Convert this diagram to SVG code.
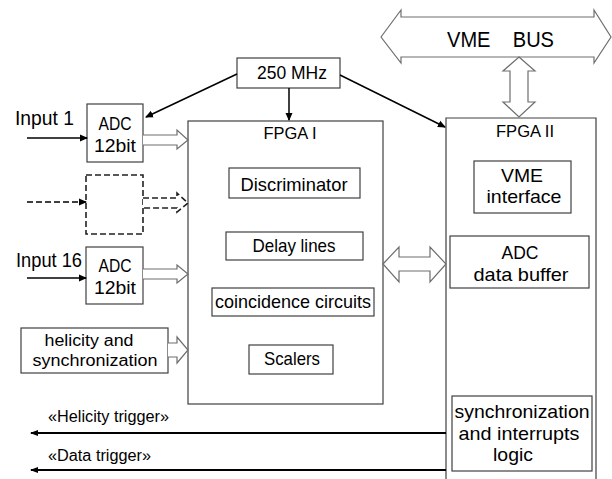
<svg xmlns="http://www.w3.org/2000/svg" width="612" height="479" viewBox="0 0 612 479">
<style>
text{font-family:"Liberation Sans",Arial,sans-serif;fill:#000;}
.box{fill:#fff;stroke:#404040;stroke-width:1.2;}
.hol{fill:#fff;stroke:#6e6e6e;stroke-width:1.2;stroke-linejoin:miter;}
.ln{stroke:#000;stroke-width:1.5;fill:none;}
.c{font-size:19px;text-anchor:middle;}
.s{font-size:16px;text-anchor:middle;}
.f{font-size:17px;text-anchor:middle;}
.tr{font-size:16px;}
</style>
<defs>
<marker id="ah" markerWidth="8" markerHeight="8" refX="7" refY="4" orient="auto" markerUnits="userSpaceOnUse">
<path d="M0,0.5 L8,4 L0,7.5 Z" fill="#000"/>
</marker>
<marker id="ah2" markerWidth="8" markerHeight="6" refX="7" refY="3" orient="auto" markerUnits="userSpaceOnUse">
<path d="M0,0 L8,3 L0,6 Z" fill="#000"/>
</marker>
</defs>

<g id="vmebus">
<path class="hol" d="M381,37 L401,10 L401,17 L594,17 L594,10 L611,37 L594,63 L594,57 L401,57 L401,63 Z"/>
<text x="447" y="47" font-size="22" textLength="107" lengthAdjust="spacingAndGlyphs" xml:space="preserve">VME    BUS</text>
</g>

<g id="clk">
<rect class="box" x="237" y="58" width="103" height="30"/>
<text x="292" y="79" font-size="18" text-anchor="middle" textLength="70" lengthAdjust="spacingAndGlyphs">250 MHz</text>
</g>

<g id="input1">
<text x="15" y="125" font-size="20" textLength="59" lengthAdjust="spacingAndGlyphs">Input 1</text>
</g>
<g id="adc1">
<rect class="box" x="87" y="104" width="56" height="58"/>
<text class="c" x="115" y="130" textLength="33" lengthAdjust="spacingAndGlyphs">ADC</text>
<text class="c" x="115" y="152" textLength="42" lengthAdjust="spacingAndGlyphs">12bit</text>
</g>

<g id="adcdash">
<rect x="86" y="175" width="57" height="59" fill="#fff" stroke="#222" stroke-width="1.6" stroke-dasharray="6 3"/>
</g>

<g id="input16">
<text x="16" y="267" font-size="20" textLength="66" lengthAdjust="spacingAndGlyphs">Input 16</text>
</g>
<g id="adc16">
<rect class="box" x="86" y="247" width="57" height="57"/>
<text class="c" x="115" y="272" textLength="33" lengthAdjust="spacingAndGlyphs">ADC</text>
<text class="c" x="115" y="294" textLength="42" lengthAdjust="spacingAndGlyphs">12bit</text>
</g>

<g id="helicity">
<rect class="box" x="21" y="328" width="147" height="45"/>
<text class="s" x="89" y="346" textLength="89" lengthAdjust="spacingAndGlyphs">helicity and</text>
<text class="s" x="95" y="366" textLength="125" lengthAdjust="spacingAndGlyphs">synchronization</text>
</g>

<g id="fpga1">
<rect class="box" x="188" y="121" width="195" height="283"/>
<text class="f" x="290" y="139" textLength="53" lengthAdjust="spacingAndGlyphs">FPGA I</text>
</g>
<g id="discriminator">
<rect class="box" x="229" y="168" width="131" height="30"/>
<text class="c" x="294" y="191" textLength="107" lengthAdjust="spacingAndGlyphs">Discriminator</text>
</g>
<g id="delay">
<rect class="box" x="226" y="232" width="137" height="28"/>
<text class="c" x="294" y="252" textLength="83" lengthAdjust="spacingAndGlyphs">Delay lines</text>
</g>
<g id="coincidence">
<rect class="box" x="212" y="288" width="162" height="28"/>
<text class="c" x="293" y="308" textLength="156" lengthAdjust="spacingAndGlyphs">coincidence circuits</text>
</g>
<g id="scalers">
<rect class="box" x="249" y="345" width="84" height="29"/>
<text class="c" x="292" y="365" textLength="56" lengthAdjust="spacingAndGlyphs">Scalers</text>
</g>

<g id="fpga2">
<path class="box" d="M446,480 L446,118 L596,118 L596,480"/>
<text class="f" x="525" y="137" textLength="58" lengthAdjust="spacingAndGlyphs">FPGA II</text>
</g>
<g id="vmeif">
<rect class="box" x="474" y="161" width="97" height="52"/>
<text class="c" x="522" y="182" textLength="42" lengthAdjust="spacingAndGlyphs">VME</text>
<text class="c" x="524" y="203" textLength="75" lengthAdjust="spacingAndGlyphs">interface</text>
</g>
<g id="adcbuf">
<rect class="box" x="450" y="236" width="139" height="52"/>
<text class="c" x="520" y="259" textLength="37" lengthAdjust="spacingAndGlyphs">ADC</text>
<text class="c" x="521" y="281" textLength="95" lengthAdjust="spacingAndGlyphs">data buffer</text>
</g>
<g id="synclogic">
<rect class="box" x="452" y="396" width="140" height="75"/>
<text class="c" x="522" y="418" textLength="135" lengthAdjust="spacingAndGlyphs">synchronization</text>
<text class="c" x="519" y="440" textLength="121" lengthAdjust="spacingAndGlyphs">and interrupts</text>
<text class="c" x="513" y="461" textLength="40" lengthAdjust="spacingAndGlyphs">logic</text>
</g>

<g id="connectors">
<line class="ln" x1="237" y1="74" x2="146" y2="117" marker-end="url(#ah)"/>
<line class="ln" x1="289" y1="88" x2="289" y2="120" marker-end="url(#ah)"/>
<line class="ln" x1="340" y1="75" x2="445" y2="127" marker-end="url(#ah)"/>
<line class="ln" x1="27" y1="138" x2="87" y2="138" marker-end="url(#ah)"/>
<line class="ln" x1="27" y1="202" x2="86" y2="202" stroke-dasharray="6 3" marker-end="url(#ah)"/>
<line class="ln" x1="27" y1="278" x2="86" y2="278" marker-end="url(#ah)"/>
<path class="hol" d="M143,135 L177,135 L177,130 L188,140 L177,149 L177,145 L143,145"/>
<path d="M143,198 L177,198 L177,193 L188,203 L177,212 L177,208 L143,208" fill="#fff" stroke="#222" stroke-width="1.6" stroke-dasharray="6 3"/>
<path class="hol" d="M143,269 L177,269 L177,265 L188,274 L177,283 L177,279 L143,279"/>
<path class="hol" d="M168,343 L177,343 L177,337 L188,350 L177,363 L177,357 L168,357"/>
<path class="hol" d="M383,264 L399,247 L399,257 L430,257 L430,247 L446,264 L430,282 L430,271 L399,271 L399,282 Z"/>
<path class="hol" d="M519,57 L535,71 L528,71 L528,102 L535,102 L519,117 L503,102 L510,102 L510,71 L503,71 Z"/>
<line x1="446" y1="433" x2="31" y2="433" stroke="#000" stroke-width="2.2" marker-end="url(#ah2)"/>
<line x1="446" y1="470" x2="31" y2="470" stroke="#000" stroke-width="2.2" marker-end="url(#ah2)"/>
<text class="tr" x="48" y="422" textLength="121" lengthAdjust="spacingAndGlyphs">«Helicity trigger»</text>
<text class="tr" x="48" y="461" textLength="103" lengthAdjust="spacingAndGlyphs">«Data trigger»</text>
</g>
</svg>
